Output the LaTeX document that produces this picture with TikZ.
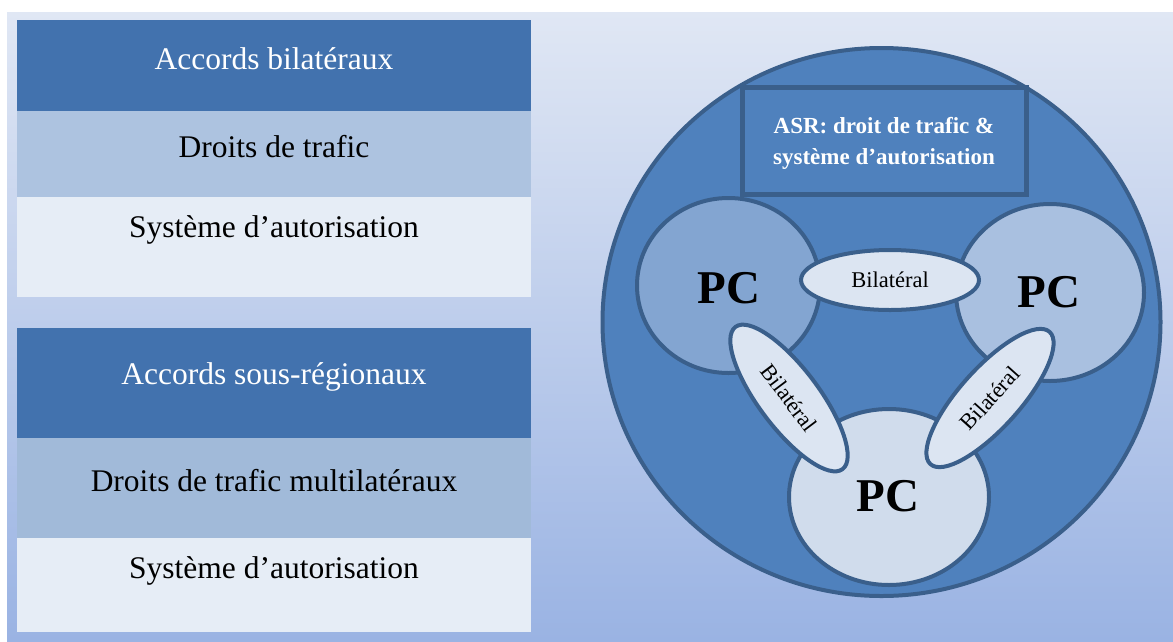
\documentclass[tikz,border=0pt]{standalone}
\usepackage{fontspec}
\setmainfont{Liberation Serif}
\usetikzlibrary{shapes.geometric}
\definecolor{bgtop}{HTML}{E0E7F4}
\definecolor{bgbot}{HTML}{9AB3E3}
\definecolor{hdr}{HTML}{4272AE}
\definecolor{bandA}{HTML}{ADC3E0}
\definecolor{bandB}{HTML}{A1BAD9}
\definecolor{bandC}{HTML}{E6EDF6}
\definecolor{ring}{HTML}{4F81BD}
\definecolor{edgec}{HTML}{3A5F8B}
\definecolor{pcA}{HTML}{83A5D1}
\definecolor{pcB}{HTML}{A9C0E0}
\definecolor{pcC}{HTML}{D0DCEC}
\definecolor{bil}{HTML}{DCE5F2}
\begin{document}
\begin{tikzpicture}[x=1pt,y=-1pt,
  band/.style={rectangle, draw=none, inner sep=0pt, outer sep=0pt, minimum width=514pt},
  paneltxt/.style={anchor=base, inner sep=0pt, font=\fontsize{31.5}{36}\selectfont},
  hdrtxt/.style={paneltxt, text=white},
  oval/.style={ellipse, draw=edgec, line width=4pt, inner sep=0pt},
  pctxt/.style={anchor=base, inner sep=0pt, font=\fontsize{47}{50}\selectfont\bfseries},
  biltxt/.style={font=\fontsize{22.5}{26}\selectfont},
  asrtxt/.style={anchor=base, inner sep=0pt, text=white, font=\fontsize{23}{26}\selectfont\bfseries}]
\useasboundingbox (0,0) rectangle (1173,641);
\fill[white] (0,0) rectangle (1173,641);
\shade[top color=bgtop, bottom color=bgbot] (7,12) rectangle (1173,641);
% left panel 1
\node[band, fill=hdr, minimum height=91pt] (h1) at (274,65.5) {};
\node[band, fill=bandA, minimum height=86pt] (b1) at (274,154) {};
\node[band, fill=bandC, minimum height=100pt] (c1) at (274,247) {};
\node[hdrtxt] (th1) at (274,69) {Accords bilatéraux};
\node[paneltxt] (tb1) at (274,157) {Droits de trafic};
\node[paneltxt] (tc1) at (274,237) {Système d’autorisation};
% left panel 2
\node[band, fill=hdr, minimum height=110pt] (h2) at (274,383) {};
\node[band, fill=bandB, minimum height=100pt] (b2) at (274,488) {};
\node[band, fill=bandC, minimum height=94pt] (c2) at (274,585) {};
\node[hdrtxt] (th2) at (274,384) {Accords sous-régionaux};
\node[paneltxt] (tb2) at (274,491) {Droits de trafic multilatéraux};
\node[paneltxt] (tc2) at (274,578) {Système d’autorisation};
% big circle
\node[oval, fill=ring, minimum width=558pt, minimum height=548pt] (big) at (881.5,322) {};
% ASR box
\node[rectangle, draw=edgec, fill=ring, line width=5pt, inner sep=0pt,
      minimum width=284pt, minimum height=107pt] (asr) at (884,140.5) {};
\node[asrtxt] (asr1) at (884,133) {ASR: droit de trafic \&};
\node[asrtxt] (asr2) at (884,164) {système d’autorisation};
% PC circles
\node[oval, fill=pcA, minimum width=183pt, minimum height=175pt] (pcL) at (728.5,285.5) {};
\node[oval, fill=pcB, minimum width=188pt, minimum height=177pt] (pcR) at (1050,292.5) {};
\node[oval, fill=pcC, minimum width=200pt, minimum height=176pt] (pcB) at (889,497) {};
\node[pctxt] (tL) at (729,303) {PC};
\node[pctxt] (tR) at (1049,307) {PC};
\node[pctxt] (tB) at (888,511) {PC};
% bilateral ellipses
\node[oval, fill=bil, minimum width=178pt, minimum height=60pt, biltxt] (bT) at (890,280) {Bilatéral};
\node[oval, fill=bil, minimum width=178pt, minimum height=60pt, biltxt, rotate=-53] (bL) at (789,398) {Bilatéral};
\node[oval, fill=bil, minimum width=178pt, minimum height=60pt, biltxt, rotate=48] (bR) at (990,398) {Bilatéral};
\end{tikzpicture}
\end{document}
